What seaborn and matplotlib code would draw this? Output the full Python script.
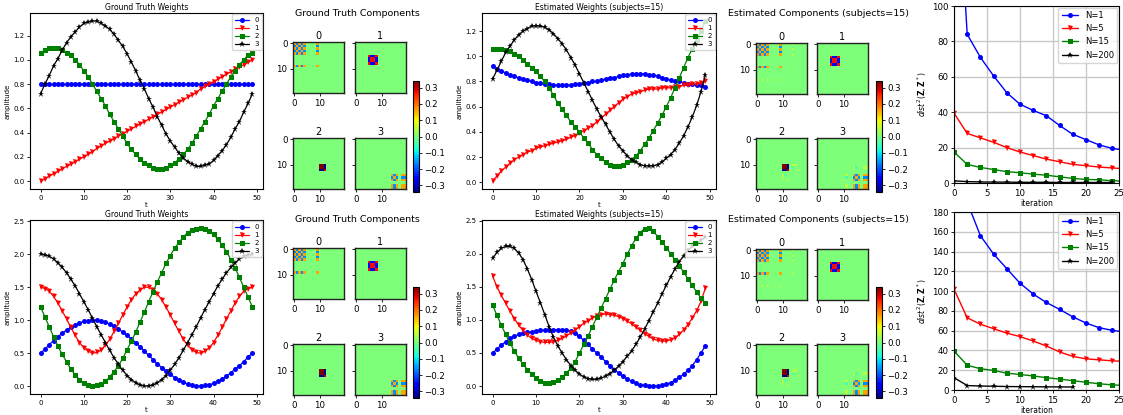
import numpy as np
import seaborn as sns
import matplotlib
matplotlib.use('Agg')
import matplotlib.pyplot as plt

# ---------------------------------------------------------------------------
# Data
# ---------------------------------------------------------------------------
T = list(range(50))
WEIGHT_LABELS = ['0', '1', '2', '3']
WEIGHT_COLORS = ['b', 'r', 'g', 'k']
WEIGHT_MARKERS = ['o', 'v', 's', '*']

# top row, ground truth weights
GT_TOP_W0 = [0.80, 0.80, 0.80, 0.80, 0.80, 0.80, 0.80, 0.80, 0.80, 0.80,
             0.80, 0.80, 0.80, 0.80, 0.80, 0.80, 0.80, 0.80, 0.80, 0.80,
             0.80, 0.80, 0.80, 0.80, 0.80, 0.80, 0.80, 0.80, 0.80, 0.80,
             0.80, 0.80, 0.80, 0.80, 0.80, 0.80, 0.80, 0.80, 0.80, 0.80,
             0.80, 0.80, 0.80, 0.80, 0.80, 0.80, 0.80, 0.80, 0.80, 0.80]
GT_TOP_W1 = [0.00, 0.02, 0.04, 0.06, 0.08, 0.10, 0.12, 0.14, 0.16, 0.18,
             0.20, 0.22, 0.24, 0.27, 0.29, 0.31, 0.33, 0.35, 0.37, 0.39,
             0.41, 0.43, 0.45, 0.47, 0.49, 0.51, 0.53, 0.55, 0.57, 0.59,
             0.61, 0.63, 0.65, 0.67, 0.69, 0.71, 0.73, 0.76, 0.78, 0.80,
             0.82, 0.84, 0.86, 0.88, 0.90, 0.92, 0.94, 0.96, 0.98, 1.00]
GT_TOP_W2 = [1.06, 1.08, 1.10, 1.10, 1.10, 1.08, 1.06, 1.04, 1.00, 0.96,
             0.91, 0.86, 0.80, 0.74, 0.68, 0.62, 0.55, 0.49, 0.43, 0.37,
             0.31, 0.26, 0.22, 0.18, 0.15, 0.13, 0.11, 0.10, 0.10, 0.11,
             0.13, 0.15, 0.18, 0.22, 0.26, 0.31, 0.37, 0.43, 0.49, 0.55,
             0.62, 0.68, 0.74, 0.80, 0.86, 0.91, 0.96, 1.00, 1.04, 1.06]
GT_TOP_W3 = [0.72, 0.80, 0.87, 0.95, 1.01, 1.08, 1.14, 1.19, 1.23, 1.27,
             1.30, 1.31, 1.32, 1.32, 1.30, 1.28, 1.25, 1.21, 1.16, 1.11,
             1.05, 0.98, 0.91, 0.83, 0.76, 0.68, 0.61, 0.53, 0.46, 0.39,
             0.33, 0.28, 0.23, 0.19, 0.16, 0.14, 0.12, 0.12, 0.13, 0.14,
             0.17, 0.21, 0.25, 0.30, 0.36, 0.43, 0.49, 0.57, 0.64, 0.72]

# top row, estimated weights
EST_TOP_W0 = [0.92, 0.90, 0.88, 0.87, 0.85, 0.84, 0.83, 0.82, 0.81, 0.80,
              0.79, 0.79, 0.78, 0.78, 0.77, 0.77, 0.77, 0.77, 0.77, 0.78,
              0.78, 0.79, 0.79, 0.80, 0.80, 0.81, 0.82, 0.83, 0.83, 0.84,
              0.85, 0.85, 0.86, 0.86, 0.86, 0.86, 0.85, 0.85, 0.84, 0.83,
              0.82, 0.81, 0.80, 0.80, 0.79, 0.78, 0.78, 0.77, 0.77, 0.76]
EST_TOP_W1 = [0.01, 0.05, 0.09, 0.12, 0.15, 0.18, 0.20, 0.22, 0.24, 0.25,
              0.27, 0.28, 0.29, 0.30, 0.31, 0.32, 0.33, 0.34, 0.36, 0.37,
              0.39, 0.41, 0.43, 0.45, 0.48, 0.51, 0.54, 0.57, 0.60, 0.63,
              0.66, 0.68, 0.70, 0.71, 0.72, 0.73, 0.74, 0.74, 0.74, 0.75,
              0.75, 0.75, 0.76, 0.76, 0.77, 0.77, 0.78, 0.78, 0.79, 0.80]
EST_TOP_W2 = [1.06, 1.06, 1.06, 1.05, 1.04, 1.02, 1.00, 0.97, 0.94, 0.91,
              0.88, 0.84, 0.80, 0.75, 0.69, 0.63, 0.58, 0.53, 0.48, 0.44,
              0.40, 0.35, 0.31, 0.26, 0.22, 0.19, 0.16, 0.14, 0.13, 0.13,
              0.14, 0.16, 0.18, 0.21, 0.25, 0.30, 0.35, 0.41, 0.47, 0.53,
              0.60, 0.67, 0.75, 0.83, 0.91, 0.99, 1.06, 1.13, 1.20, 1.28]
EST_TOP_W3 = [0.82, 0.89, 0.96, 1.03, 1.08, 1.13, 1.17, 1.20, 1.22, 1.24,
              1.24, 1.24, 1.23, 1.21, 1.18, 1.14, 1.10, 1.05, 0.99, 0.93,
              0.86, 0.79, 0.72, 0.65, 0.58, 0.52, 0.46, 0.40, 0.34, 0.29,
              0.25, 0.21, 0.18, 0.16, 0.14, 0.13, 0.13, 0.13, 0.14, 0.16,
              0.19, 0.22, 0.26, 0.31, 0.37, 0.44, 0.52, 0.61, 0.72, 0.85]

# bottom row, ground truth weights
GT_BOT_W0 = [0.50, 0.56, 0.63, 0.69, 0.75, 0.80, 0.85, 0.89, 0.93, 0.96,
             0.98, 0.99, 1.00, 1.00, 0.99, 0.97, 0.94, 0.91, 0.87, 0.82,
             0.77, 0.72, 0.66, 0.60, 0.53, 0.47, 0.40, 0.34, 0.28, 0.23,
             0.18, 0.13, 0.09, 0.06, 0.03, 0.01, 0.00, 0.00, 0.01, 0.02,
             0.04, 0.07, 0.11, 0.15, 0.20, 0.26, 0.31, 0.37, 0.44, 0.50]
GT_BOT_W1 = [1.50, 1.48, 1.44, 1.36, 1.26, 1.14, 1.02, 0.89, 0.77, 0.66,
             0.58, 0.53, 0.50, 0.51, 0.55, 0.62, 0.71, 0.83, 0.95, 1.08,
             1.20, 1.31, 1.40, 1.46, 1.50, 1.50, 1.46, 1.40, 1.31, 1.20,
             1.08, 0.95, 0.83, 0.71, 0.62, 0.55, 0.51, 0.50, 0.53, 0.58,
             0.66, 0.77, 0.89, 1.02, 1.14, 1.26, 1.36, 1.44, 1.48, 1.50]
GT_BOT_W2 = [1.20, 1.05, 0.90, 0.75, 0.61, 0.48, 0.37, 0.26, 0.17, 0.10,
             0.05, 0.02, 0.00, 0.01, 0.03, 0.07, 0.14, 0.22, 0.31, 0.42,
             0.55, 0.68, 0.82, 0.97, 1.12, 1.28, 1.43, 1.58, 1.72, 1.86,
             1.98, 2.09, 2.18, 2.26, 2.33, 2.37, 2.39, 2.40, 2.39, 2.35,
             2.30, 2.23, 2.14, 2.04, 1.92, 1.79, 1.65, 1.50, 1.35, 1.20]
GT_BOT_W3 = [2.00, 1.99, 1.97, 1.93, 1.87, 1.80, 1.72, 1.62, 1.52, 1.40,
             1.28, 1.16, 1.03, 0.90, 0.78, 0.66, 0.54, 0.43, 0.33, 0.24,
             0.16, 0.10, 0.05, 0.02, 0.00, 0.00, 0.02, 0.05, 0.10, 0.16,
             0.24, 0.33, 0.43, 0.54, 0.66, 0.78, 0.90, 1.03, 1.16, 1.28,
             1.40, 1.52, 1.62, 1.72, 1.80, 1.87, 1.93, 1.97, 1.99, 2.00]

# bottom row, estimated weights
EST_BOT_W0 = [0.50, 0.56, 0.62, 0.67, 0.72, 0.75, 0.78, 0.80, 0.81, 0.82,
              0.83, 0.84, 0.84, 0.85, 0.85, 0.85, 0.85, 0.84, 0.83, 0.80,
              0.75, 0.69, 0.63, 0.56, 0.50, 0.44, 0.37, 0.31, 0.25, 0.20,
              0.15, 0.11, 0.07, 0.04, 0.02, 0.01, 0.00, 0.00, 0.00, 0.01,
              0.03, 0.05, 0.09, 0.13, 0.18, 0.24, 0.31, 0.40, 0.50, 0.61]
EST_BOT_W1 = [1.66, 1.50, 1.37, 1.25, 1.13, 1.02, 0.92, 0.84, 0.77, 0.72,
              0.69, 0.67, 0.66, 0.66, 0.67, 0.69, 0.72, 0.76, 0.80, 0.85,
              0.90, 0.95, 0.99, 1.03, 1.06, 1.08, 1.09, 1.08, 1.07, 1.05,
              1.02, 0.98, 0.94, 0.89, 0.84, 0.79, 0.75, 0.71, 0.69, 0.68,
              0.68, 0.70, 0.73, 0.78, 0.85, 0.93, 1.03, 1.14, 1.28, 1.48]
EST_BOT_W2 = [1.22, 1.07, 0.92, 0.78, 0.65, 0.53, 0.42, 0.33, 0.25, 0.18,
              0.12, 0.08, 0.05, 0.05, 0.06, 0.09, 0.14, 0.20, 0.27, 0.37,
              0.50, 0.63, 0.76, 0.90, 1.04, 1.18, 1.32, 1.46, 1.60, 1.73,
              1.85, 1.99, 2.12, 2.23, 2.32, 2.38, 2.39, 2.34, 2.26, 2.18,
              2.09, 2.00, 1.91, 1.82, 1.72, 1.62, 1.52, 1.42, 1.33, 1.26]
EST_BOT_W3 = [1.93, 2.02, 2.08, 2.11, 2.11, 2.08, 2.01, 1.91, 1.77, 1.61,
              1.43, 1.26, 1.08, 0.90, 0.74, 0.61, 0.50, 0.40, 0.31, 0.24,
              0.18, 0.14, 0.11, 0.10, 0.10, 0.12, 0.15, 0.19, 0.24, 0.30,
              0.37, 0.45, 0.53, 0.63, 0.74, 0.86, 0.99, 1.12, 1.25, 1.39,
              1.52, 1.65, 1.77, 1.88, 1.97, 2.05, 2.11, 2.16, 2.21, 2.25]

# distance to ground truth per iteration
ITERS = [0, 2, 4, 6, 8, 10, 12, 14, 16, 18, 20, 22, 24, 26]
DIST_LABELS = ['N=1', 'N=5', 'N=15', 'N=200']
DIST_TOP_N1 = [210, 84, 71, 60.5, 51, 44.5, 41, 38, 32.5, 27.5, 24.5, 21.5, 19.5, 18.5]
DIST_TOP_N5 = [39.5, 28, 25.5, 23, 20, 17.5, 15.5, 13.5, 12, 10.5, 9.8, 9.0, 8.5, 8.0]
DIST_TOP_N15 = [17.5, 10.5, 8.8, 7.6, 6.4, 5.8, 5.0, 4.4, 3.5, 2.6, 2.0, 1.8, 1.3, 1.0]
DIST_TOP_N200 = [1.2, 0.8, 0.6, 0.5, 0.5, 0.4, 0.4, 0.4, 0.3, 0.3, 0.3, 0.3, 0.3]
DIST_BOT_N1 = [400, 190, 156, 137.5, 122.7, 108, 97, 88.5, 81.5, 74, 67.7, 63, 60.3, 58.5]
DIST_BOT_N5 = [102, 73, 66.5, 62, 57.5, 54, 49.5, 44.5, 38.5, 34, 31.5, 30.5, 29.5, 28.8]
DIST_BOT_N15 = [39.5, 25, 21.5, 19.8, 17, 15.7, 14.2, 12.5, 11, 9.5, 7.8, 6.3, 5.2, 4.5]
DIST_BOT_N200 = [12.5, 4.5, 4.0, 3.8, 3.5, 3.4, 3.3, 3.2, 3.1, 3.0]

# 20x20 components: indices of the non-zero block and the block values
COMP_SIZE = 20
COMP_IDX = [[0, 1, 2, 3, 4, 9], [5, 6, 7, 8], [10, 11, 12], [14, 15, 16, 18, 19]]
COMP0_BLOCK = [[0.16, -0.16, 0.16, -0.16, 0.16, 0.16],
               [-0.16, 0.16, -0.16, 0.16, -0.16, -0.16],
               [0.16, -0.16, 0.16, -0.16, 0.16, 0.16],
               [-0.16, 0.16, -0.16, 0.16, -0.16, -0.16],
               [0.16, -0.16, 0.16, -0.16, 0.16, 0.16],
               [0.16, -0.16, 0.16, -0.16, 0.16, 0.16]]
COMP1_BLOCK = [[0.27, -0.27, -0.27, 0.27],
               [-0.27, 0.27, 0.27, -0.27],
               [-0.27, 0.27, 0.27, -0.27],
               [0.27, -0.27, -0.27, 0.27]]
COMP2_BLOCK = [[0.36, 0.36, -0.33],
               [0.36, 0.36, -0.33],
               [-0.33, -0.33, 0.30]]
COMP3_BLOCK = [[0.16, -0.16, 0.16, 0.16, 0.16],
               [-0.16, 0.16, -0.16, -0.16, -0.16],
               [0.16, -0.16, 0.16, 0.16, 0.16],
               [0.16, -0.16, 0.16, 0.16, 0.16],
               [0.16, -0.16, 0.16, 0.16, 0.16]]
# faint extra entries in the estimated components: (component, row, col, value)
EST_EXTRA = [(0, 0, 14, 0.05), (0, 1, 14, -0.03), (0, 2, 14, 0.05), (0, 3, 14, -0.03),
             (0, 4, 14, 0.04), (0, 9, 14, 0.03),
             (2, 10, 14, 0.05), (2, 10, 15, 0.04), (2, 11, 14, -0.03), (2, 12, 16, 0.04),
             (3, 14, 11, 0.05), (3, 15, 11, -0.04), (3, 16, 10, 0.03),
             (3, 18, 11, 0.05), (3, 19, 11, 0.04)]
CB_TICKS = [-0.3, -0.2, -0.1, 0.0, 0.1, 0.2, 0.3]


def build_components(extra):
    blocks = [COMP0_BLOCK, COMP1_BLOCK, COMP2_BLOCK, COMP3_BLOCK]
    mats = []
    for idx, block in zip(COMP_IDX, blocks):
        m = np.zeros((COMP_SIZE, COMP_SIZE))
        m[np.ix_(idx, idx)] = np.array(block)
        mats.append(m)
    for k, r, c, v in extra:
        mats[k][r, c] = v
        mats[k][c, r] = v
    return mats


GT_COMPS = build_components([])
EST_COMPS = build_components(EST_EXTRA)

# ---------------------------------------------------------------------------
# Layout helpers (pixel boxes of the 1123x415 reference)
# ---------------------------------------------------------------------------
W, H = 1123, 415
SHIFT = 206

sns.set_style('ticks')
plt.rcParams.update({
    'font.family': ['DejaVu Sans'],
    'axes.edgecolor': 'black',
    'axes.linewidth': 0.8,
    'xtick.color': 'black',
    'ytick.color': 'black',
    'axes.labelcolor': 'black',
    'text.color': 'black',
    'xtick.major.size': 2.5,
    'ytick.major.size': 2.5,
    'xtick.major.width': 0.6,
    'ytick.major.width': 0.6,
    'xtick.major.pad': 1.5,
    'ytick.major.pad': 1.5,
})

fig = plt.figure(figsize=(W / 100, H / 100), dpi=100)


def add_box(l, t, r, b, dy=0):
    return fig.add_axes([l / W, 1 - (b + dy) / H, (r - l) / W, (b - t) / H])


def draw_weights(ax, series, title):
    for vals, c, m in zip(series, WEIGHT_COLORS, WEIGHT_MARKERS):
        sns.lineplot(x=T, y=vals, ax=ax, color=c, marker=m,
                     markersize=4.6 if m == '*' else 3.6, markeredgewidth=0,
                     linewidth=0.9, legend=False)
    ax.set_title(title, fontsize=5.5, pad=2.5)
    ax.set_xlabel('t', fontsize=5, labelpad=1)
    ax.set_ylabel('amplitude', fontsize=5, labelpad=2)
    ax.tick_params(labelsize=5)
    ax.set_xticks([0, 10, 20, 30, 40, 50])
    ax.legend(ax.lines[:4], WEIGHT_LABELS, loc='upper right', fontsize=5,
              labelspacing=0.3, borderaxespad=0.2, handlelength=2,
              borderpad=0.4, fancybox=True)


def draw_components(boxes, cbox, mats, title, title_xy, dy):
    mappable = None
    for i, (box, mat) in enumerate(zip(boxes, mats)):
        ax = add_box(*box, dy=dy)
        sns.heatmap(mat, ax=ax, cmap='jet', vmin=-0.34, vmax=0.34, cbar=False,
                    xticklabels=False, yticklabels=False)
        mappable = ax.collections[0]
        for s in ax.spines.values():
            s.set_visible(True)
            s.set_color('#222222')
            s.set_linewidth(1.0)
        ax.set_xticks([0.5, 10.5])
        ax.set_xticklabels(['0', '10'], rotation=0)
        ax.set_yticks([0.5, 10.5])
        if i % 2 == 0:
            ax.set_yticklabels(['0', '10'], rotation=0)
        else:
            ax.set_yticklabels([])
        ax.tick_params(labelsize=6.2, length=2.5)
        ax.set_title(str(i), fontsize=7, pad=2)
    cax = add_box(*cbox, dy=dy)
    cb = fig.colorbar(mappable, cax=cax, ticks=CB_TICKS)
    cb.ax.tick_params(labelsize=6.2, length=2.5, width=0.6)
    cb.outline.set_linewidth(0.8)
    fig.text(title_xy[0] / W, 1 - (title_xy[1] + dy) / H, title,
             ha='center', va='center', fontsize=6.8)


def draw_dist(ax, series, ymax, yticks):
    for vals, c, m in zip(series, WEIGHT_COLORS, WEIGHT_MARKERS):
        sns.lineplot(x=ITERS[:len(vals)], y=vals, ax=ax, color=c, marker=m,
                     markersize=4.6 if m == '*' else 3.6, markeredgewidth=0,
                     linewidth=1.0, legend=False)
    ax.set_xlim(0, 25)
    ax.set_ylim(0, ymax)
    ax.set_xticks([0, 5, 10, 15, 20, 25])
    ax.set_yticks(yticks)
    ax.grid(True, color='#c8c8c8', linewidth=1.0)
    ax.set_axisbelow(True)
    ax.tick_params(labelsize=6.2)
    ax.set_xlabel('iteration', fontsize=5.5, labelpad=1)
    ax.set_ylabel(r'$dist^2(\mathbf{Z},\mathbf{Z}^*)$', fontsize=5.5, labelpad=2)
    ax.legend(ax.lines[:4], DIST_LABELS, loc='upper right', fontsize=6,
              borderaxespad=0.2, handlelength=2, fancybox=True)


GT_PANELS = [(293, 42, 344, 93), (355, 42, 406, 93), (293, 138, 344, 189), (355, 138, 406, 189)]
GT_CBAR = (413, 81, 419, 192)
EST_PANELS = [(756, 43, 807, 94), (817, 43, 868, 94), (756, 138, 807, 189), (817, 138, 868, 189)]
EST_CBAR = (876, 81, 882, 192)

rows = [
    (0, [GT_TOP_W0, GT_TOP_W1, GT_TOP_W2, GT_TOP_W3],
     [EST_TOP_W0, EST_TOP_W1, EST_TOP_W2, EST_TOP_W3],
     [DIST_TOP_N1, DIST_TOP_N5, DIST_TOP_N15, DIST_TOP_N200], 100,
     [0, 20, 40, 60, 80, 100], (13, 189), (954, 6, 1119, 183)),
    (1, [GT_BOT_W0, GT_BOT_W1, GT_BOT_W2, GT_BOT_W3],
     [EST_BOT_W0, EST_BOT_W1, EST_BOT_W2, EST_BOT_W3],
     [DIST_BOT_N1, DIST_BOT_N5, DIST_BOT_N15, DIST_BOT_N200], 180,
     [0, 20, 40, 60, 80, 100, 120, 140, 160, 180], (220, 394), (954, 212, 1119, 390)),
]

for r, gt_w, est_w, dist, ymax, yticks, (wtop, wbot), dist_box in rows:
    dy = SHIFT * r
    ax = add_box(30, wtop, 263, wbot)
    draw_weights(ax, gt_w, 'Ground Truth Weights')
    ax = add_box(482, wtop, 716, wbot)
    draw_weights(ax, est_w, 'Estimated Weights (subjects=15)')

    draw_components(GT_PANELS, GT_CBAR, GT_COMPS, 'Ground Truth Components', (357, 13), dy)
    draw_components(EST_PANELS, EST_CBAR, EST_COMPS,
                    'Estimated Components (subjects=15)', (818, 13), dy)

    ax = add_box(*dist_box)
    draw_dist(ax, dist, ymax, yticks)

fig.savefig('out.png', dpi=100)
